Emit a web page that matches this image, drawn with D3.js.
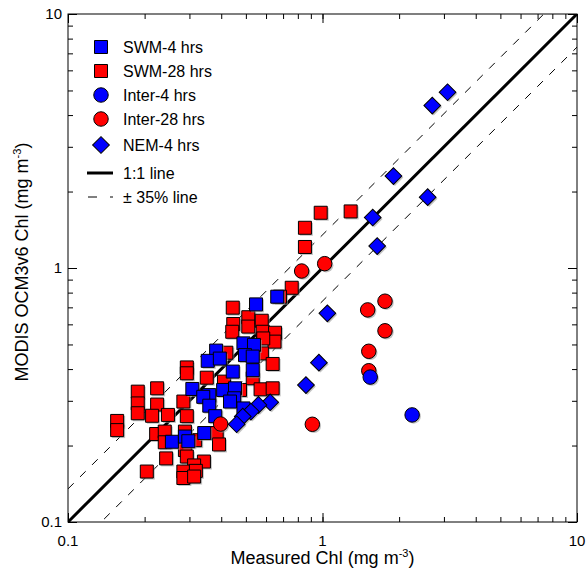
<!DOCTYPE html>
<html>
<head>
<meta charset="utf-8">
<script src="https://cdn.jsdelivr.net/npm/d3@7"></script>
<style>
    body { margin: 0; background: #fff; }
    svg text { font-family: "Liberation Sans", Arial, sans-serif; fill: #000; }
</style>
</head>
<body>
<svg id="chart" width="587" height="571"></svg>
<script>
// [measured, modis] pairs, mg m-3
var swm28 = [
    [0.757, 0.836], [0.444, 0.698], [0.511, 0.640], [0.511, 0.588], [0.446, 0.602],
    [0.442, 0.561], [0.577, 0.620], [0.582, 0.561], [0.651, 0.556], [0.648, 0.513],
    [0.585, 0.528], [0.419, 0.464], [0.578, 0.461], [0.637, 0.419], [0.532, 0.368],
    [0.293, 0.406], [0.293, 0.385], [0.351, 0.370], [0.224, 0.336], [0.188, 0.326],
    [0.188, 0.293], [0.188, 0.268], [0.284, 0.298], [0.224, 0.290], [0.214, 0.262],
    [0.247, 0.264], [0.293, 0.261], [0.156, 0.250], [0.156, 0.230], [0.410, 0.357],
    [0.571, 0.333], [0.637, 0.336], [0.474, 0.331], [0.222, 0.222], [0.240, 0.227],
    [0.240, 0.206], [0.288, 0.227], [0.288, 0.207], [0.288, 0.192], [0.316, 0.210],
    [0.384, 0.224], [0.392, 0.202], [0.243, 0.178], [0.293, 0.181], [0.342, 0.173],
    [0.313, 0.167], [0.204, 0.158], [0.284, 0.158], [0.318, 0.159], [0.284, 0.149],
    [0.313, 0.151], [0.984, 1.65], [1.29, 1.67], [0.853, 1.44], [0.853, 1.21],
    [0.681, 0.771]
];
var swm4 = [
    [0.664, 0.771], [0.548, 0.719], [0.489, 0.505], [0.538, 0.498], [0.496, 0.454],
    [0.532, 0.448], [0.532, 0.396], [0.382, 0.473], [0.354, 0.431], [0.395, 0.440],
    [0.444, 0.391], [0.308, 0.334], [0.407, 0.331], [0.453, 0.336], [0.359, 0.316],
    [0.340, 0.311], [0.450, 0.307], [0.433, 0.298], [0.359, 0.287], [0.379, 0.261],
    [0.489, 0.280], [0.343, 0.224], [0.256, 0.207], [0.288, 0.217], [0.297, 0.208]
];
var inter28 = [
    [0.828, 0.973], [1.02, 1.04], [1.505, 0.684], [1.76, 0.740], [1.76, 0.566],
    [1.52, 0.470], [1.52, 0.394], [0.912, 0.2425], [0.398, 0.243]
];
var inter4 = [[1.54, 0.372], [2.25, 0.264]];
var nem4 = [
    [2.70, 4.36], [3.10, 4.92], [1.90, 2.30], [2.59, 1.90], [1.575, 1.58],
    [1.64, 1.22], [1.045, 0.663], [0.968, 0.424], [0.861, 0.346], [0.623, 0.296],
    [0.560, 0.289], [0.523, 0.272], [0.486, 0.260], [0.460, 0.2425]
];

var legendItems = [
    {label: "SWM-4 hrs", shape: "square", color: "#0000ff"},
    {label: "SWM-28 hrs", shape: "square", color: "#ff0000"},
    {label: "Inter-4 hrs", shape: "circle", color: "#0000ff"},
    {label: "Inter-28 hrs", shape: "circle", color: "#ff0000"},
    {label: "NEM-4 hrs", shape: "diamond", color: "#0000ff"}
];

var majorTicks = [0.1, 1, 10];

(function () {
    var pLeft = 68, pRight = 577, pTop = 14, pBottom = 522;

    var svg = d3.select("#chart");

    var x = d3.scaleLog().domain([0.1, 10]).range([pLeft, pRight]);
    var y = d3.scaleLog().domain([0.1, 10]).range([pBottom, pTop]);

    var shapes = {
        square: d3.symbol().type(d3.symbolSquare).size(169),
        circle: d3.symbol().type(d3.symbolCircle).size(165),
        diamond: d3.symbol().type(d3.symbolSquare).size(140)
    };

    svg.append("clipPath").attr("id", "plotclip")
        .append("rect")
        .attr("x", pLeft).attr("y", pTop)
        .attr("width", pRight - pLeft).attr("height", pBottom - pTop);

    // ticks point inwards on all four sides
    var minorTicks = x.ticks();

    function drawTicks(axisFn, scale, transform, size, values) {
        svg.append("g")
            .attr("transform", transform)
            .call(axisFn(scale).tickValues(values).tickSizeInner(-size).tickSizeOuter(0).tickFormat(""))
            .call(function (g) { g.select(".domain").remove(); })
            .selectAll("line").attr("stroke", "#000");
    }

    drawTicks(d3.axisBottom, x, "translate(0," + pBottom + ")", 5, minorTicks);
    drawTicks(d3.axisTop, x, "translate(0," + pTop + ")", 5, minorTicks);
    drawTicks(d3.axisLeft, y, "translate(" + pLeft + ",0)", 5, minorTicks);
    drawTicks(d3.axisRight, y, "translate(" + pRight + ",0)", 5, minorTicks);
    drawTicks(d3.axisBottom, x, "translate(0," + pBottom + ")", 9, majorTicks);
    drawTicks(d3.axisTop, x, "translate(0," + pTop + ")", 9, majorTicks);
    drawTicks(d3.axisLeft, y, "translate(" + pLeft + ",0)", 9, majorTicks);
    drawTicks(d3.axisRight, y, "translate(" + pRight + ",0)", 9, majorTicks);

    // tick labels
    svg.append("g").selectAll("text")
        .data(majorTicks)
        .enter().append("text")
        .attr("x", function (d) { return x(d); })
        .attr("y", pBottom + 24)
        .attr("text-anchor", "middle")
        .style("font-size", "15px")
        .text(function (d) { return String(d); });

    svg.append("g").selectAll("text")
        .data(majorTicks)
        .enter().append("text")
        .attr("x", pLeft - 6)
        .attr("y", function (d) { return y(d) + 5; })
        .attr("text-anchor", "end")
        .style("font-size", "15px")
        .text(function (d) { return String(d); });

    // reference lines
    var lines = svg.append("g").attr("clip-path", "url(#plotclip)");
    var ends = [0.1, 10];

    lines.append("line")
        .attr("x1", x(ends[0])).attr("y1", y(ends[0]))
        .attr("x2", x(ends[1])).attr("y2", y(ends[1]))
        .attr("stroke", "#000").attr("stroke-width", 3);

    [1.35, 1 / 1.35].forEach(function (f) {
        lines.append("line")
            .attr("x1", x(ends[0])).attr("y1", y(ends[0] * f))
            .attr("x2", x(ends[1])).attr("y2", y(ends[1] * f))
            .attr("stroke", "#000").attr("stroke-width", 1)
            .attr("stroke-dasharray", "8,9");
    });

    // markers, with a soft grey shadow
    function drawSeries(data, shape, color) {
        var g = svg.append("g");
        var rot = shape === "diamond" ? " rotate(45)" : "";
        g.selectAll("path.shadow")
            .data(data)
            .enter().append("path")
            .attr("class", "shadow")
            .attr("d", shapes[shape])
            .attr("transform", function (d) { return "translate(" + (x(d[0]) + 1.5) + "," + (y(d[1]) + 1.5) + ")" + rot; })
            .attr("fill", "#999")
            .attr("opacity", 0.6);
        g.selectAll("path.mark")
            .data(data)
            .enter().append("path")
            .attr("class", "mark")
            .attr("d", shapes[shape])
            .attr("transform", function (d) { return "translate(" + x(d[0]) + "," + y(d[1]) + ")" + rot; })
            .attr("fill", color)
            .attr("stroke", "#000")
            .attr("stroke-width", 1);
    }

    drawSeries(swm28, "square", "#ff0000");
    drawSeries(swm4, "square", "#0000ff");
    drawSeries(inter28, "circle", "#ff0000");
    drawSeries(inter4, "circle", "#0000ff");
    drawSeries(nem4, "diamond", "#0000ff");

    // frame
    svg.append("rect")
        .attr("x", pLeft).attr("y", pTop)
        .attr("width", pRight - pLeft).attr("height", pBottom - pTop)
        .attr("fill", "none").attr("stroke", "#000").attr("stroke-width", 1);

    // legend
    var legend = svg.append("g");
    var rowY = [47, 71, 95, 119, 145];

    legendItems.forEach(function (item, i) {
        var rot = item.shape === "diamond" ? " rotate(45)" : "";
        legend.append("path")
            .attr("d", shapes[item.shape])
            .attr("transform", "translate(101," + rowY[i] + ")" + rot)
            .attr("fill", item.color)
            .attr("stroke", "#000");
        legend.append("text")
            .attr("x", 123).attr("y", rowY[i] + 6)
            .style("font-size", "16px")
            .text(item.label);
    });

    legend.append("line")
        .attr("x1", 87).attr("x2", 113).attr("y1", 173).attr("y2", 173)
        .attr("stroke", "#000").attr("stroke-width", 3);
    legend.append("text")
        .attr("x", 123).attr("y", 179)
        .style("font-size", "16px")
        .text("1:1 line");

    legend.append("line")
        .attr("x1", 88).attr("x2", 113).attr("y1", 197).attr("y2", 197)
        .attr("stroke", "#000").attr("stroke-width", 1)
        .attr("stroke-dasharray", "9,13");
    legend.append("text")
        .attr("x", 123).attr("y", 203)
        .style("font-size", "16px")
        .text("\u00b1 35% line");

    // axis titles
    var xt = svg.append("text")
        .attr("x", (pLeft + pRight) / 2).attr("y", 564)
        .attr("text-anchor", "middle")
        .style("font-size", "18px");
    xt.append("tspan").text("Measured Chl (mg m");
    xt.append("tspan").attr("dy", -7).style("font-size", "11px").text("-3");
    xt.append("tspan").attr("dy", 7).text(")");

    var yt = svg.append("text")
        .attr("transform", "translate(28,262) rotate(-90)")
        .attr("text-anchor", "middle")
        .style("font-size", "18px");
    yt.append("tspan").text("MODIS OCM3v6 Chl (mg m");
    yt.append("tspan").attr("dy", -7).style("font-size", "11px").text("-3");
    yt.append("tspan").attr("dy", 7).text(")");
})();
</script>
</body>
</html>
